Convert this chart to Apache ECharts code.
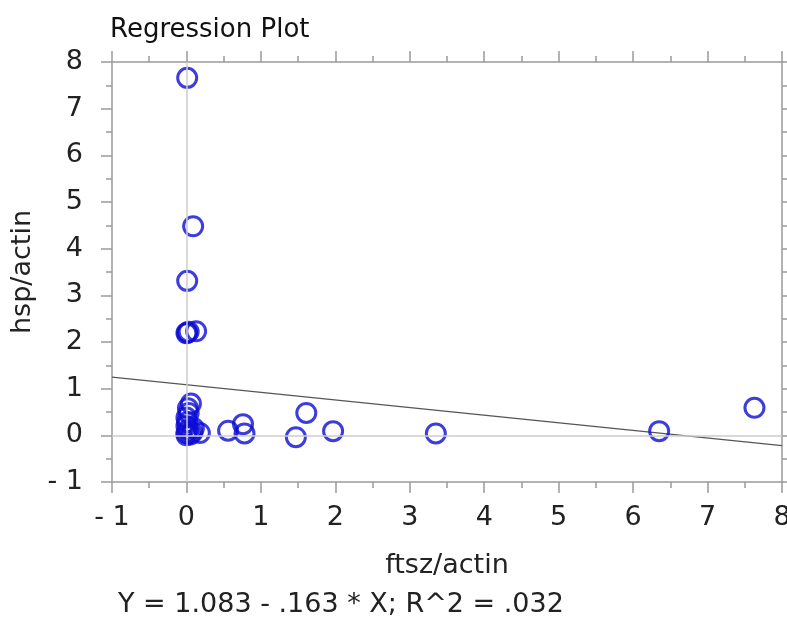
<!DOCTYPE html>
<html>
<head>
<meta charset="utf-8">
<script src="https://cdn.jsdelivr.net/npm/echarts@6/dist/echarts.min.js"></script>
<style>
  html, body { margin: 0; padding: 0; background: #ffffff; }
  #chart { width: 787px; height: 620px; }
</style>
</head>
<body>
<div id="chart"></div>
<script>
// Observations: ftsz/actin (x) against hsp/actin (y)
const ftszActin = [
  0.01, 0.09, 0.01, 0.00, 0.03, 0.13, 0.01,
  0.06, 0.02, 0.03, 0.00, 0.01, 0.00, 0.02, 0.00, 0.05, 0.00, 0.08, 0.18, 0.10,
  0.56, 0.76, 0.78, 1.61, 1.47, 1.97, 3.35, 6.35, 7.63
];
const hspActin = [
  7.66, 4.48, 3.31, 2.19, 2.22, 2.23, 2.20,
  0.68, 0.58, 0.48, 0.38, 0.28, 0.20, 0.12, 0.05, 0.02, 0.00, 0.06, 0.05, 0.15,
  0.10, 0.24, 0.04, 0.48, -0.04, 0.09, 0.04, 0.09, 0.59
];

// Fitted line Y = a + b * X
const intercept = 1.083;
const slope = -0.163;
const rSquared = '.032';

// Axis ranges
const xRange = [-1, 8];
const yRange = [-1, 8];

const points = ftszActin.map((x, i) => [x, hspActin[i]]);
const fitLine = xRange.map(x => [x, intercept + slope * x]);

const FONT = 'DejaVu Sans';
const axisGray = '#9a9a9a';
const fmt = v => (v < 0 ? '- ' + Math.abs(v) : String(v));

function frameAxis(position, withLabels, extra) {
  const horizontal = position === 'bottom' || position === 'top';
  return Object.assign({
    type: 'value',
    position: position,
    min: horizontal ? xRange[0] : yRange[0],
    max: horizontal ? xRange[1] : yRange[1],
    interval: 1,
    axisLine: { show: true, onZero: false, lineStyle: { color: axisGray, width: 1.5 } },
    axisTick: { show: true, inside: false, length: 11, lineStyle: { color: axisGray, width: 1.5 } },
    minorTick: { show: true, splitNumber: 2, length: 6, lineStyle: { color: axisGray, width: 1.5 } },
    splitLine: { show: false },
    axisLabel: withLabels
      ? { show: true, formatter: fmt, fontFamily: FONT, fontSize: 27, color: '#222' }
      : { show: false }
  }, extra || {});
}

const chart = echarts.init(document.getElementById('chart'), null, { renderer: 'canvas' });

chart.setOption({
  animation: false,
  backgroundColor: '#ffffff',
  title: {
    text: 'Regression Plot',
    left: 105,
    top: 12,
    textStyle: { fontFamily: FONT, fontSize: 26, fontWeight: 'normal', color: '#111' }
  },
  grid: {
    left: 112, top: 62, width: 670, height: 420,
    containLabel: false,
    outerBoundsMode: 'none'
  },
  xAxis: [
    frameAxis('bottom', true, {
      name: 'ftsz/actin',
      nameLocation: 'middle',
      nameGap: 70,
      nameTextStyle: { fontFamily: FONT, fontSize: 27, color: '#222' },
      axisLabel: { show: true, formatter: fmt, fontFamily: FONT, fontSize: 27, color: '#222', margin: 22 }
    }),
    frameAxis('top', false)
  ],
  yAxis: [
    frameAxis('left', true, {
      name: 'hsp/actin',
      nameLocation: 'middle',
      nameGap: 70,
      nameRotate: 90,
      nameTextStyle: { fontFamily: FONT, fontSize: 27, color: '#222' },
      axisLabel: { show: true, formatter: fmt, fontFamily: FONT, fontSize: 27, color: '#222', margin: 29 }
    }),
    frameAxis('right', false)
  ],
  graphic: [{
    type: 'text',
    left: 118,
    top: 591,
    style: {
      text: 'Y = ' + intercept + ' - ' + String(Math.abs(slope)).replace(/^0/, '') + ' * X; R^2 = ' + rSquared,
      font: '27px "' + FONT + '"',
      fill: '#222'
    }
  }],
  series: [
    {
      type: 'line',
      data: fitLine,
      xAxisIndex: 0,
      yAxisIndex: 0,
      symbol: 'none',
      lineStyle: { color: '#555', width: 1.2 },
      silent: true,
      z: 3,
      markLine: {
        silent: true,
        symbol: 'none',
        label: { show: false },
        lineStyle: { color: '#cccccc', width: 1.5, type: 'solid' },
        data: [{ xAxis: 0 }, { yAxis: 0 }]
      }
    },
    {
      type: 'scatter',
      data: points,
      xAxisIndex: 0,
      yAxisIndex: 0,
      symbol: 'circle',
      symbolSize: 19,
      itemStyle: { color: 'rgba(0,0,0,0)', borderColor: '#0c0cd4', borderWidth: 3 },
      z: 4
    }
  ]
});
</script>
</body>
</html>
